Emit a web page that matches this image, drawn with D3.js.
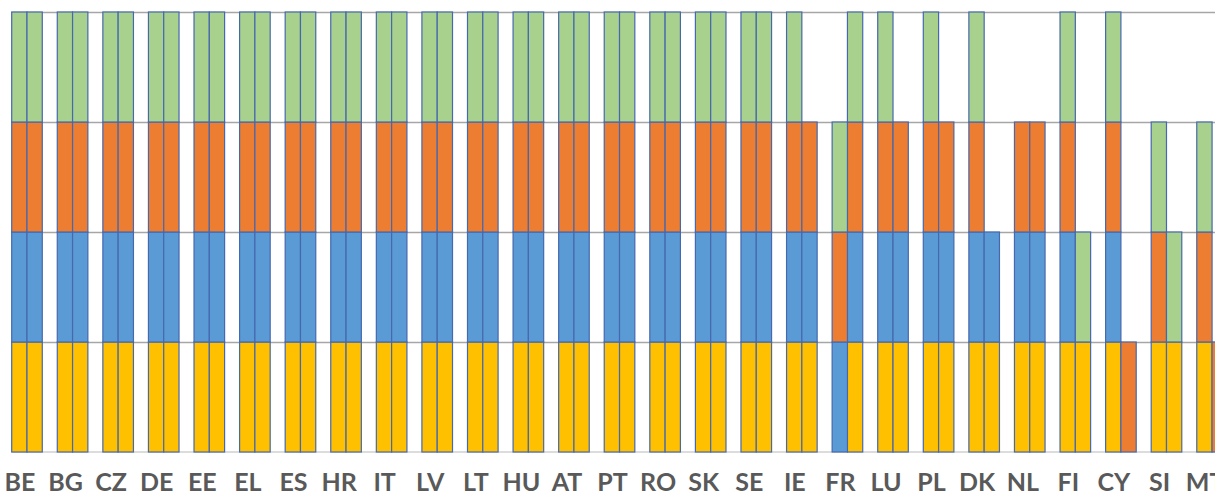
<!DOCTYPE html>
<html>
<head>
<meta charset="utf-8">
<script src="https://cdn.jsdelivr.net/npm/d3@7"></script>
<style>
  html, body { margin: 0; padding: 0; background: #fff; }
  svg { display: block; }
</style>
</head>
<body>
<svg id="chart" width="1215" height="497"></svg>
<script>
// ---- Data ----
const countries = ["BE","BG","CZ","DE","EE","EL","ES","HR","IT","LV","LT","HU","AT","PT","RO","SK","SE","IE","FR","LU","PL","DK","NL","FI","CY","SI","MT"];
const yTicks = [0, 1, 2, 3, 4];
const seriesKeys = ["yellow", "blue", "orange", "green"];
const seriesColors = ["#FFC000", "#5B9BD5", "#ED7D31", "#A9D18E"];
const barKeys = ["first", "second"];

// First bar of each country (1 = segment present)
const firstYellow = [1,1,1,1,1,1,1,1,1,1,1,1,1,1,1,1,1,1,0,1,1,1,1,1,1,1,1];
const firstBlue   = [1,1,1,1,1,1,1,1,1,1,1,1,1,1,1,1,1,1,1,1,1,1,1,1,1,0,0];
const firstOrange = [1,1,1,1,1,1,1,1,1,1,1,1,1,1,1,1,1,1,1,1,1,1,1,1,1,1,1];
const firstGreen  = [1,1,1,1,1,1,1,1,1,1,1,1,1,1,1,1,1,1,1,1,1,1,0,1,1,1,1];
// Second bar of each country
const secondYellow = [1,1,1,1,1,1,1,1,1,1,1,1,1,1,1,1,1,1,1,1,1,1,1,1,0,1,0];
const secondBlue   = [1,1,1,1,1,1,1,1,1,1,1,1,1,1,1,1,1,1,1,1,1,1,1,0,0,0,0];
const secondOrange = [1,1,1,1,1,1,1,1,1,1,1,1,1,1,1,1,1,1,1,1,1,0,1,0,1,0,1];
const secondGreen  = [1,1,1,1,1,1,1,1,1,1,1,1,1,1,1,1,1,0,1,0,0,0,0,1,0,1,0];

// ---- Build table ----
const bars = [];
countries.forEach((c, i) => {
  bars.push({country: c, bar: "first",  yellow: firstYellow[i],  blue: firstBlue[i],  orange: firstOrange[i],  green: firstGreen[i]});
  bars.push({country: c, bar: "second", yellow: secondYellow[i], blue: secondBlue[i], orange: secondOrange[i], green: secondGreen[i]});
});

// ---- Layout ----
const svg = d3.select("#chart");
const W = 1215, H = 497;
const step = 45.58;
const left = 4.2;
const plotLeft = 11.7;
const yTop = 12, yBottom = 452;

const x = d3.scaleBand().domain(countries).range([left, left + step * countries.length]).paddingInner(0).paddingOuter(0);
const x1 = d3.scaleBand().domain(barKeys).range([0, x.bandwidth()]).paddingInner(0).paddingOuter(0.49);
const y = d3.scaleLinear().domain([0, 4]).range([yBottom, yTop]);
const color = d3.scaleOrdinal().domain(seriesKeys).range(seriesColors);

// Gridlines
const gridAxis = d3.axisLeft(y).tickValues(yTicks.filter(d => d > 0)).tickSize(-(W - plotLeft)).tickFormat("");
svg.append("g")
  .attr("transform", `translate(${plotLeft},0)`)
  .call(gridAxis)
  .call(g => g.select(".domain").remove())
  .call(g => g.selectAll(".tick line").attr("stroke", "#A6A6A6").attr("stroke-width", 1.5));
// Baseline
svg.append("g")
  .attr("transform", `translate(0,${y(0)})`)
  .call(d3.axisBottom(x).tickSize(0).tickFormat(""))
  .call(g => g.select(".domain").attr("d", `M${plotLeft},0H${W}`).attr("stroke", "#D0D0D0").attr("stroke-width", 1.5));

// Stacked bars
const stack = d3.stack().keys(seriesKeys);
const layers = stack(bars);

const layerG = svg.append("g").selectAll("g")
  .data(layers)
  .join("g")
  .attr("fill", d => color(d.key));

layerG.selectAll("rect")
  .data(d => d.filter(p => p[1] - p[0] > 0))
  .join("rect")
  .attr("x", d => x(d.data.country) + x1(d.data.bar))
  .attr("width", x1.bandwidth())
  .attr("y", d => y(d[1]))
  .attr("height", d => y(d[0]) - y(d[1]))
  .attr("stroke", "#4668AE")
  .attr("stroke-width", 1.2);

// Category labels
svg.append("g")
  .attr("transform", `translate(-7,${H - 6})`)
  .call(d3.axisBottom(x).tickSize(0).tickPadding(0))
  .call(g => g.select(".domain").remove())
  .call(g => g.selectAll("text")
    .attr("dy", 0)
    .attr("y", 0)
    .attr("fill", "#595959")
    .attr("font-family", "Lato, sans-serif")
    .attr("font-weight", 700)
    .attr("font-size", "25px"));
</script>
</body>
</html>
